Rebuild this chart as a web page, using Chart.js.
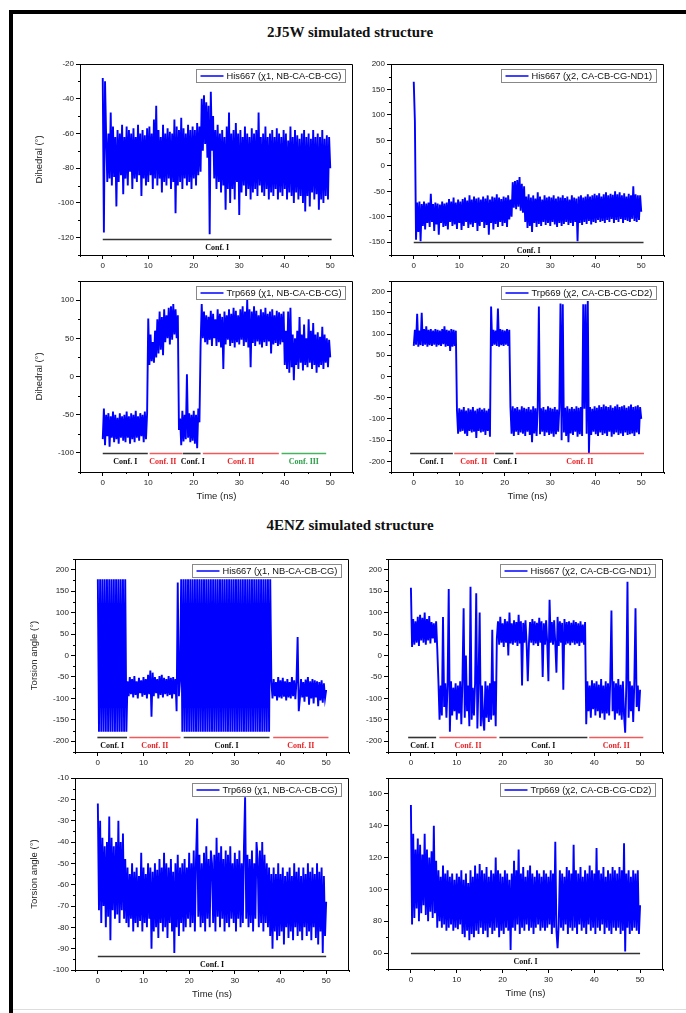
<!DOCTYPE html>
<html>
<head>
<meta charset="utf-8">
<script src="https://cdn.jsdelivr.net/npm/chart.js@4"></script>
<style>
  body { margin: 0; background: #fff; }
  #page { position: relative; width: 686px; height: 1013px; overflow: hidden; background: #fff; }
  #page canvas { position: absolute; }
  .frameTop { position: absolute; left: 9px; top: 10px; width: 677px; height: 4px; background: #000; }
  .frameLeft { position: absolute; left: 9px; top: 10px; width: 4px; height: 1003px; background: #000; }
  .frameBottom { position: absolute; left: 13px; top: 1009px; width: 673px; height: 1px; background: #ddd; }
  .title { position: absolute; left: 14px; width: 672px; text-align: center; font: bold 15px "Liberation Serif", serif; line-height: 18px; color: #111; }
</style>
</head>
<body>
<div id="page">
  <div class="frameTop"></div>
  <div class="frameLeft"></div>
  <div class="frameBottom"></div>
  <div class="title" style="top:23px">2J5W simulated structure</div>
  <div class="title" style="top:516px">4ENZ simulated structure</div>
</div>
<script>
// pas de temps des trajectoires (ns) et ticks de l'axe x
const timeStep = 0.25;
const xTicks = [0, 10, 20, 30, 40, 50];

// ticks des axes y
const yTicksP1 = [-120, -100, -80, -60, -40, -20];
const yTicksP2 = [-150, -100, -50, 0, 50, 100, 150, 200];
const yTicksP3 = [-100, -50, 0, 50, 100];
const yTicksP4 = [-200, -150, -100, -50, 0, 50, 100, 150, 200];
const yTicksP5 = [-200, -150, -100, -50, 0, 50, 100, 150, 200];
const yTicksP6 = [-200, -150, -100, -50, 0, 50, 100, 150, 200];
const yTicksP7 = [-100, -90, -80, -70, -60, -50, -40, -30, -20, -10];
const yTicksP8 = [60, 80, 100, 120, 140, 160];

// 2J5W - His667 chi1
const his667Chi1_2J5W = [
  -28, -117, -30, -62, -88, -60, -86, -48, -90, -56, -85, -62, -102, -58, -88, -60, -84, -55, -95, -62,
  -86, -56, -90, -58, -82, -60, -92, -57, -86, -62, -88, -55, -84, -60, -96, -58, -86, -61, -90, -57,
  -88, -56, -84, -60, -92, -52, -86, -44, -90, -58, -86, -62, -94, -55, -88, -60, -90, -57, -86, -59,
  -92, -60, -88, -52, -106, -56, -90, -58, -88, -51, -92, -57, -86, -60, -90, -55, -88, -58, -92, -56,
  -86, -58, -90, -54, -84, -56, -82, -40, -70, -38, -66, -42, -74, -44, -118, -36, -70, -50, -86, -58,
  -92, -55, -88, -60, -94, -58, -90, -62, -104, -56, -92, -48, -100, -60, -92, -58, -98, -54, -88, -60,
  -107, -58, -94, -62, -90, -56, -96, -60, -92, -62, -98, -57, -94, -60, -92, -58, -96, -48, -90, -62,
  -94, -60, -96, -56, -92, -62, -98, -60, -94, -58, -96, -62, -92, -57, -98, -60, -94, -62, -96, -58,
  -92, -60, -98, -64, -94, -56, -96, -62, -100, -58, -94, -61, -98, -63, -96, -60, -100, -58, -105, -62,
  -96, -60, -102, -63, -94, -58, -98, -62, -95, -60, -104, -62, -98, -58, -100, -63, -96, -61, -98, -62,
  -80
];

// 2J5W - His667 chi2
const his667Chi2_2J5W = [
  165, 88, -145, -72, -130, -70, -148, -75, -118, -70, -125, -74, -112, -72, -120, -55, -110, -75, -128, -72,
  -115, -74, -135, -76, -112, -70, -120, -74, -118, -72, -125, -65, -110, -70, -118, -62, -115, -72, -124, -66,
  -112, -70, -126, -65, -118, -62, -110, -68, -122, -58, -115, -66, -120, -60, -112, -64, -128, -62, -118, -66,
  -110, -60, -122, -64, -116, -58, -135, -66, -112, -60, -125, -62, -114, -56, -120, -62, -110, -65, -118, -60,
  -112, -62, -120, -58, -105, -66, -100, -32, -82, -30, -85, -28, -80, -22, -88, -35, -92, -40, -110, -60,
  -122, -56, -118, -62, -130, -58, -112, -64, -120, -52, -114, -60, -118, -66, -110, -58, -116, -62, -112, -60,
  -118, -62, -110, -58, -115, -64, -120, -60, -112, -62, -118, -58, -114, -63, -110, -60, -116, -66, -112, -58,
  -118, -62, -110, -64, -148, -60, -112, -58, -116, -62, -110, -60, -114, -56, -108, -60, -115, -58, -110, -55,
  -112, -58, -106, -54, -110, -60, -108, -56, -112, -52, -106, -58, -110, -55, -104, -57, -112, -50, -106, -56,
  -110, -52, -104, -58, -112, -54, -106, -60, -108, -55, -110, -58, -104, -40, -108, -56, -110, -58, -106, -58,
  -90
];

// 2J5W - Trp669 chi1
const trp669Chi1_2J5W = [
  -82, -42, -90, -50, -78, -48, -92, -52, -80, -46, -86, -50, -82, -54, -88, -48, -80, -52, -84, -50,
  -86, -46, -80, -52, -88, -48, -82, -50, -86, -45, -80, -52, -84, -48, -78, -50, -86, -46, -82, -48,
  76, 15, 55, 20, 45, 18, 60, 25, 75, 30, 85, 35, 78, 28, 88, 45, 80, 50, 90, 42,
  92, 48, 95, 55, 88, 50, 80, -70, -55, -90, -45, -85, -50, -82, 3, -80, -48, -86, -50, -84,
  -45, -88, -50, -94, -42, -60, 40, 95, 50, 85, 45, 80, 42, 78, 48, 86, 40, 82, 50, 75,
  40, 88, 45, 82, 38, 78, 10, 85, 42, 80, 48, 88, 40, 82, 44, 90, 38, 86, 45, 80,
  42, 88, 48, 92, 40, 85, 45, 100, 38, 88, 12, 85, 44, 92, 40, 86, 46, 80, 42, 88,
  38, 84, 45, 90, 40, 82, 46, 85, 30, 88, 42, 80, 44, 86, 40, 84, 42, 82, 45, 85,
  15, 60, 10, 85, 5, 90, 12, 55, -5, 50, 15, 60, 10, 78, 18, 55, 8, 68, 15, 50,
  12, 75, 18, 60, 10, 70, 15, 55, 5, 58, 12, 52, 15, 65, 10, 55, 18, 50, 12, 48,
  25
];

// 2J5W - Trp669 chi2
const trp669Chi2_2J5W = [
  72, 110, 75, 148, 70, 108, 74, 150, 72, 112, 75, 118, 70, 110, 74, 112, 72, 108, 75, 112,
  70, 110, 74, 108, 72, 112, 76, 118, 70, 110, 72, 108, 60, 112, 70, 110, 72, 108, -80, -135,
  -75, -130, -78, -128, -72, -135, -80, -140, -75, -128, -78, -132, -72, -130, -80, -145, -76, -128, -74, -132,
  -78, -130, -75, -138, -80, -128, -76, -142, 165, 72, 110, 75, 108, 72, 160, 70, 112, 74, 110, 72,
  108, 75, 112, 72, 110, -72, -135, -70, -140, -75, -130, -72, -138, -78, -132, -70, -135, -74, -140, -76,
  -130, -72, -138, -78, -155, -70, -134, -75, -140, -72, 165, -136, -75, -130, -72, -140, -78, -132, -70, -138,
  -74, -135, -76, -142, -72, -136, -78, -130, -72, 172, -150, 170, -132, -74, -140, -70, -155, -76, -134, -72,
  -138, -76, -130, -70, -142, -74, -136, -72, -140, 170, -76, 170, -135, 178, -180, -72, -138, -76, -130, -70,
  -136, -74, -140, -68, -132, -72, -138, -66, -134, -70, -140, -72, -130, -68, -142, -74, -136, -70, -132, -66,
  -138, -72, -134, -70, -140, -68, -132, -74, -138, -70, -136, -66, -134, -72, -140, -70, -132, -68, -136, -72,
  -100
];

// 4ENZ - His667 chi1
const his667Chi1_4ENZ = [
  178, -178, 178, -178, 178, -178, 178, -178, 178, -178, 178, -178, 178, -178, 178, -178, 178, -178, 178, -178,
  178, -178, 178, -178, 178, -178, -60, -95, -50, -90, -55, -98, -48, -92, -60, -100, -52, -88, -58, -96,
  -50, -92, -55, -100, -45, -90, -35, -143, -40, -95, -50, -88, -55, -100, -48, -92, -45, -98, -52, -90,
  -55, -95, -48, -92, -52, -100, -50, -90, -55, -130, 170, -95, -60, 178, -178, 178, -178, 178, -178, 178,
  -178, 178, -178, 178, -178, 178, -178, 178, -178, 178, -178, 178, -178, 178, -178, 178, -178, 178, -178, 178,
  -178, 178, -178, 178, -178, 178, -178, 178, -178, 178, -178, 178, -178, 178, -178, 178, -178, 178, -178, 178,
  -178, 178, -178, 178, -178, 178, -178, 178, -178, 178, -178, 178, -178, 178, -178, 178, -178, 178, -178, 178,
  -178, 178, -178, 178, -178, 178, -178, 178, -178, 178, -178, 178, -60, -100, -55, -95, -62, -105, -50, -98,
  -58, -100, -52, -96, -60, -105, -55, -98, -62, -100, -50, -95, -58, -102, -60, 43, -130, -100, -55, -98,
  -62, -108, -56, -96, -50, -115, -60, -100, -55, -112, -58, -98, -60, -118, -62, -105, -58, -110, -65, -100,
  -80
];

// 4ENZ - His667 chi2
const his667Chi2_4ENZ = [
  158, 20, 85, 25, 80, 30, 90, 22, 95, 35, 88, 30, 100, 25, 85, 35, 92, 28, 78, 40,
  75, 30, 80, 15, -60, -150, -70, -140, 90, -120, -65, -145, -70, 155, -178, -60, -140, -75, -130, -65,
  -150, -70, -135, -60, -160, -55, 110, -145, 0, -130, -70, -165, 160, -150, -75, -140, -65, 145, -170, -60,
  100, -165, -70, -150, -175, -60, -145, -70, -155, -65, -150, 60, -140, -60, -165, 40, 80, 25, 90, 30,
  75, 20, 85, 30, 80, 0, 100, 28, 75, 25, 82, 30, 78, 22, 95, 28, 80, -70, 76, 30,
  82, 25, -60, 28, 78, 30, 85, 24, 80, 28, 76, 22, 88, 30, 80, -50, 75, 25, 82, 28,
  -60, 130, 30, 78, 25, 82, 28, -40, 90, 22, 80, 30, 76, -80, 85, 25, 78, 28, 80, 24,
  76, 30, 82, 25, 78, 28, 75, 22, 80, 30, 72, 25, 78, -160, -60, -130, -70, -145, -58, -125,
  -65, -140, -60, -130, -68, -145, -55, -135, -70, -150, -60, -135, -65, -140, -55, 105, -130, -60, -150, -65,
  -135, -55, -140, -68, -150, -60, -140, -180, -65, 172, -145, -60, -130, -70, -155, -60, 110, -120, -70, -130,
  -80
];

// 4ENZ - Trp669 chi1
const trp669Chi1_4ENZ = [
  -22, -72, -30, -78, -38, -70, -42, -80, -40, -75, -28, -86, -38, -72, -42, -76, -40, -74, -30, -78,
  -40, -72, -36, -76, -48, -78, -52, -80, -55, -76, -50, -82, -54, -78, -52, -80, -56, -77, -45, -82,
  -52, -78, -55, -80, -50, -76, -52, -90, -54, -82, -50, -80, -53, -85, -48, -78, -52, -82, -45, -80,
  -50, -85, -52, -78, -48, -82, -54, -92, -50, -80, -46, -84, -52, -78, -50, -82, -48, -80, -52, -76,
  -45, -80, -50, -78, -44, -82, -48, -29, -75, -46, -80, -50, -78, -45, -82, -42, -76, -48, -80, -44,
  -50, -78, -46, -82, -38, -75, -45, -80, -42, -76, -48, -82, -44, -78, -46, -80, -42, -76, -50, -78,
  -45, -82, -48, -76, -44, -80, -50, -78, -42, -19, -76, -46, -80, -48, -78, -44, -82, -50, -76, -40,
  -48, -80, -44, -78, -40, -82, -46, -78, -50, -80, -52, -84, -55, -90, -52, -82, -55, -86, -50, -84,
  -55, -82, -52, -88, -56, -80, -54, -85, -52, -82, -56, -86, -50, -80, -54, -84, -52, -82, -56, -86,
  -52, -80, -55, -84, -50, -82, -54, -86, -52, -80, -55, -85, -50, -88, -54, -82, -52, -92, -56, -84,
  -68
];

// 4ENZ - Trp669 chi2
const trp669Chi2_4ENZ = [
  153, 78, 135, 82, 125, 88, 132, 80, 128, 85, 122, 90, 135, 84, 125, 80, 120, 86, 124, 82,
  140, 85, 118, 76, 112, 80, 108, 76, 115, 78, 110, 74, 112, 76, 108, 78, 110, 74, 106, 76,
  110, 75, 108, 78, 112, 72, 106, 70, 110, 74, 104, 68, 112, 72, 108, 70, 115, 74, 110, 72,
  116, 76, 112, 72, 110, 74, 114, 70, 108, 76, 112, 72, 110, 74, 120, 76, 112, 70, 110, 74,
  108, 72, 112, 76, 110, 74, 106, 62, 110, 76, 118, 74, 112, 78, 125, 72, 110, 76, 114, 74,
  108, 78, 112, 74, 115, 76, 110, 72, 108, 76, 112, 78, 110, 74, 108, 76, 112, 74, 110, 76,
  108, 78, 112, 72, 110, 76, 130, 74, 63, 78, 112, 76, 110, 74, 108, 78, 114, 72, 112, 76,
  110, 74, 128, 76, 112, 72, 110, 78, 114, 74, 108, 76, 112, 72, 110, 78, 115, 74, 112, 76,
  110, 72, 126, 76, 112, 74, 110, 78, 114, 72, 108, 76, 112, 74, 110, 72, 114, 76, 112, 74,
  110, 76, 114, 72, 112, 74, 129, 61, 110, 76, 112, 72, 108, 74, 112, 76, 110, 74, 112, 72,
  90
];

// conformations : [debut, fin, nom, centre du texte (optionnel)]
const confP1 = [[0, 50.3, 'Conf. I']];
const confP2 = [[0, 50.5, 'Conf. I']];
const confP3 = [[0, 9.9, 'Conf. I'], [10.3, 17.5, 'Conf. II', 13.2], [17.6, 21.5, 'Conf. I', 19.8], [22, 38.7, 'Conf. II'], [39.3, 49.1, 'Conf. III']];
const confP4 = [[-0.8, 8.6, 'Conf. I'], [8.9, 17.7, 'Conf. II', 13.2], [17.9, 21.9, 'Conf. I', 20.1], [22.4, 50.6, 'Conf. II']];
const confP5 = [[-0.1, 6.4, 'Conf. I'], [6.9, 18.1, 'Conf. II'], [18.8, 37.6, 'Conf. I'], [38.4, 50.5, 'Conf. II']];
const confP6 = [[-0.6, 5.5, 'Conf. I'], [6.2, 18.7, 'Conf. II'], [19.3, 38.5, 'Conf. I'], [38.9, 50.7, 'Conf. II']];
const confP7 = [[0, 50, 'Conf. I']];
const confP8 = [[0, 50, 'Conf. I']];

const confColors = {
  'Conf. I': { line: '#333', text: '#111' },
  'Conf. II': { line: '#f05a5a', text: '#e8262a' },
  'Conf. III': { line: '#45b45f', text: '#2ca04a' }
};

const panels = [
  { box: [80, 64, 353, 255], yMin: -130, yMax: -20, yTicks: yTicksP1, yMinor: 10, values: his667Chi1_2J5W,
    label: 'His667 (χ1, NB-CA-CB-CG)', yTitle: 'Dihedral (°)', xTitle: '', confLevel: -121, conf: confP1 },
  { box: [391, 64, 664, 255], yMin: -175, yMax: 200, yTicks: yTicksP2, yMinor: 25, values: his667Chi2_2J5W,
    label: 'His667 (χ2, CA-CB-CG-ND1)', yTitle: '', xTitle: '', confLevel: -150, conf: confP2 },
  { box: [80, 281, 353, 472], yMin: -125, yMax: 125, yTicks: yTicksP3, yMinor: 25, values: trp669Chi1_2J5W,
    label: 'Trp669 (χ1, NB-CA-CB-CG)', yTitle: 'Dihedral (°)', xTitle: 'Time (ns)', confLevel: -100, conf: confP3 },
  { box: [391, 281, 664, 472], yMin: -225, yMax: 225, yTicks: yTicksP4, yMinor: 25, values: trp669Chi2_2J5W,
    label: 'Trp669 (χ2, CA-CB-CG-CD2)', yTitle: '', xTitle: 'Time (ns)', confLevel: -181, conf: confP4 },
  { box: [75, 559, 349, 752], yMin: -225, yMax: 225, yTicks: yTicksP5, yMinor: 25, values: his667Chi1_4ENZ,
    label: 'His667 (χ1, NB-CA-CB-CG)', yTitle: 'Torsion angle (°)', xTitle: '', confLevel: -189, conf: confP5 },
  { box: [388, 559, 663, 752], yMin: -225, yMax: 225, yTicks: yTicksP6, yMinor: 25, values: his667Chi2_4ENZ,
    label: 'His667 (χ2, CA-CB-CG-ND1)', yTitle: '', xTitle: '', confLevel: -190, conf: confP6 },
  { box: [75, 778, 349, 970], yMin: -100, yMax: -10, yTicks: yTicksP7, yMinor: 5, values: trp669Chi1_4ENZ,
    label: 'Trp669 (χ1, NB-CA-CB-CG)', yTitle: 'Torsion angle (°)', xTitle: 'Time (ns)', confLevel: -93.3, conf: confP7 },
  { box: [388, 778, 663, 969], yMin: 50, yMax: 170, yTicks: yTicksP8, yMinor: 10, values: trp669Chi2_4ENZ,
    label: 'Trp669 (χ2, CA-CB-CG-CD2)', yTitle: '', xTitle: 'Time (ns)', confLevel: 60, conf: confP8 }
];

// cadre, petits ticks, légende encadrée, conformations et titres d'axes
const decorPlugin = {
  id: 'decor',
  afterDraw(chart, args, o) {
    const { ctx, chartArea: a, scales: { x, y } } = chart;
    ctx.save();
    ctx.strokeStyle = '#000';
    ctx.lineWidth = 1;
    ctx.beginPath();
    ctx.moveTo(a.left, a.top + 0.5);
    ctx.lineTo(a.right - 0.5, a.top + 0.5);
    ctx.lineTo(a.right - 0.5, a.bottom);
    ctx.stroke();

    // petits ticks
    ctx.beginPath();
    for (let v = Math.ceil(x.min / 5) * 5; v <= x.max; v += 5) {
      if (xTicks.includes(v)) continue;
      const px = Math.round(x.getPixelForValue(v)) + 0.5;
      ctx.moveTo(px, a.bottom);
      ctx.lineTo(px, a.bottom + 2);
    }
    for (let v = Math.ceil(y.min / o.yMinor) * o.yMinor; v <= y.max; v += o.yMinor) {
      if (o.yTicks.includes(v)) continue;
      const py = Math.round(y.getPixelForValue(v)) + 0.5;
      ctx.moveTo(a.left, py);
      ctx.lineTo(a.left - 2, py);
    }
    ctx.stroke();

    // conformations
    const py = Math.round(y.getPixelForValue(o.confLevel)) + 0.5;
    ctx.font = 'bold 8px "Liberation Serif", serif';
    ctx.textAlign = 'center';
    ctx.textBaseline = 'middle';
    o.conf.forEach(s => {
      const c = confColors[s[2]];
      const x1 = x.getPixelForValue(s[0]);
      const x2 = x.getPixelForValue(s[1]);
      ctx.strokeStyle = c.line;
      ctx.lineWidth = 1.6;
      ctx.beginPath();
      ctx.moveTo(x1, py);
      ctx.lineTo(x2, py);
      ctx.stroke();
      ctx.fillStyle = c.text;
      const tx = s[3] !== undefined ? x.getPixelForValue(s[3]) : (x1 + x2) / 2;
      ctx.fillText(s[2], tx, py + 8);
    });

    // légende
    const label = chart.data.datasets[0].label;
    ctx.font = '9.3px "Liberation Sans", Arial, sans-serif';
    const tw = ctx.measureText(label).width;
    const w = Math.round(4 + 23 + 3 + tw + 4);
    const h = 13;
    const bx = Math.round(a.right - 8 - w) + 0.5;
    const by = Math.round(a.top + 5) + 0.5;
    ctx.fillStyle = '#fff';
    ctx.fillRect(bx, by, w, h);
    ctx.strokeStyle = '#888';
    ctx.lineWidth = 1;
    ctx.strokeRect(bx, by, w, h);
    ctx.strokeStyle = '#0000ff';
    ctx.lineWidth = 1.5;
    ctx.beginPath();
    ctx.moveTo(bx + 4, by + h / 2);
    ctx.lineTo(bx + 27, by + h / 2);
    ctx.stroke();
    ctx.fillStyle = '#111';
    ctx.textAlign = 'left';
    ctx.fillText(label, bx + 30, by + h / 2 + 0.5);

    // titres des axes
    ctx.font = '9.5px "Liberation Sans", Arial, sans-serif';
    ctx.fillStyle = '#222';
    ctx.textAlign = 'center';
    if (o.yTitle) {
      ctx.save();
      ctx.translate(a.left - 41, (a.top + a.bottom) / 2);
      ctx.rotate(-Math.PI / 2);
      ctx.fillText(o.yTitle, 0, 0);
      ctx.restore();
    }
    if (o.xTitle) {
      ctx.fillText(o.xTitle, (a.left + a.right) / 2, a.bottom + 24);
    }
    ctx.restore();
  }
};

function makePanel(p) {
  const ml = 60, mt = 10, mr = 10, mb = 34;
  const w = p.box[2] - p.box[0];
  const h = p.box[3] - p.box[1];
  const canvas = document.createElement('canvas');
  canvas.width = ml + w + mr;
  canvas.height = mt + h + mb;
  canvas.style.left = (p.box[0] - ml) + 'px';
  canvas.style.top = (p.box[1] - mt) + 'px';
  canvas.style.width = canvas.width + 'px';
  canvas.style.height = canvas.height + 'px';
  document.getElementById('page').appendChild(canvas);

  const tickFont = { family: '"Liberation Sans", Arial, sans-serif', size: 8 };

  new Chart(canvas, {
    type: 'line',
    data: {
      datasets: [{
        label: p.label,
        data: p.values.map((v, i) => ({ x: i * timeStep, y: v })),
        borderColor: '#0000ff',
        borderWidth: 1.9,
        borderJoinStyle: 'miter',
        pointRadius: 0,
        tension: 0
      }]
    },
    options: {
      responsive: false,
      animation: false,
      devicePixelRatio: 1,
      layout: { padding: { top: mt, right: mr, left: 0, bottom: 0 } },
      plugins: {
        legend: { display: false },
        tooltip: { enabled: false },
        decor: { yTicks: p.yTicks, yMinor: p.yMinor, conf: p.conf, confLevel: p.confLevel, yTitle: p.yTitle, xTitle: p.xTitle }
      },
      scales: {
        x: {
          type: 'linear',
          min: -5,
          max: 55,
          afterBuildTicks: s => { s.ticks = xTicks.map(v => ({ value: v })); },
          afterFit: s => { s.height = mb; },
          ticks: { font: tickFont, color: '#222', padding: 2, autoSkip: false, maxRotation: 0, callback: v => String(v) },
          grid: { drawOnChartArea: false, tickLength: 4, color: '#000' },
          border: { color: '#000' }
        },
        y: {
          type: 'linear',
          min: p.yMin,
          max: p.yMax,
          afterBuildTicks: s => { s.ticks = p.yTicks.map(v => ({ value: v })); },
          afterFit: s => { s.width = ml; },
          ticks: { font: tickFont, color: '#222', padding: 2, autoSkip: false, callback: v => String(v) },
          grid: { drawOnChartArea: false, tickLength: 4, color: '#000' },
          border: { color: '#000' }
        }
      }
    },
    plugins: [decorPlugin]
  });
}

panels.forEach(makePanel);
</script>
</body>
</html>
